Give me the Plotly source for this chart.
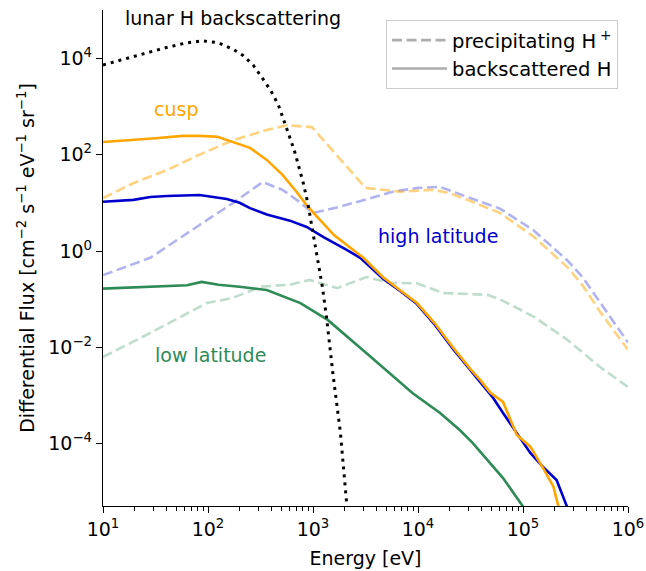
import plotly.graph_objects as go

# ---------------- data ----------------
lunar_E = [10, 15.8, 25.1, 39.8, 63.1, 89.1, 126, 178, 214, 269, 324, 398, 468, 525, 589,
           661, 724, 804, 891, 977, 1096, 1230, 1349, 1549, 1820, 2089, 2291]
lunar_F = [7240, 9550, 12600, 16600, 20900, 22900, 20900, 14800, 11500, 7240, 4070, 2090,
           1070, 525, 282, 126, 61.7, 26.9, 10.0, 3.16, 0.76, 0.178, 0.040, 0.0028,
           1.78e-4, 6.3e-6, 6.3e-7]

cusp_back_E = [10, 19.5, 31.6, 57.5, 83.2, 123, 174, 251, 363, 513, 708, 871, 1096, 1585,
               2239, 3020, 4677, 6761, 9772, 14450, 21380, 31620, 38900, 48980, 64570,
               87100, 117500, 154900, 195000, 229100]
cusp_back_F = [182, 200, 219, 245, 245, 234, 182, 138, 77.6, 38.0, 16.2, 8.91, 5.13, 2.14,
               1.20, 0.724, 0.282, 0.155, 0.0832, 0.0316, 0.0102, 3.55e-3, 2.14e-3, 1.15e-3,
               7.41e-4, 1.55e-4, 8.71e-5, 3.16e-5, 1.29e-5, 3.16e-6]

high_back_E = [10, 19.5, 28.2, 40.7, 83.2, 151, 200, 251, 363, 603, 871, 1259, 1995,
               2818, 4677, 6761, 9772, 14450, 21380, 31620, 38900, 51290, 64570, 83180,
               117500, 154900, 208900, 263000, 288400]
high_back_F = [10.5, 11.5, 13.2, 13.8, 14.5, 12.0, 10.0, 7.76, 5.75, 4.27, 3.16, 1.95,
               1.12, 0.724, 0.263, 0.148, 0.0794, 0.0295, 9.55e-3, 3.31e-3, 2.0e-3, 9.33e-4,
               4.37e-4, 1.95e-4, 6.46e-5, 3.31e-5, 1.78e-5, 4.9e-6, 2.5e-6]

low_back_E = [10, 28.2, 63.1, 87.1, 126, 200, 363, 759, 1380, 3236, 8913, 16220, 25120,
              33110, 48980, 64570, 97720, 112200]
low_back_F = [0.166, 0.182, 0.195, 0.229, 0.200, 0.182, 0.155, 0.0832, 0.0372, 7.59e-3,
              1.12e-3, 4.37e-4, 1.91e-4, 1.05e-4, 3.98e-5, 1.95e-5, 5.37e-6, 3.55e-6]

cusp_prec_E = [10, 19.5, 40.7, 83.2, 174, 363, 562, 977, 3162, 6761, 13800, 19950, 29510,
               60260, 125900, 263000, 371500, 537000, 1e6]
cusp_prec_F = [12.6, 25.7, 47.9, 100, 200, 324, 407, 372, 20.4, 17.0, 18.6, 15.8, 11.5,
               6.17, 2.0, 0.468, 0.191, 0.0562, 8.91e-3]

high_prec_E = [10, 28.2, 83.2, 174, 331, 513, 741, 1000, 1820, 3715, 5754, 10000, 16220,
               29510, 60260, 125900, 263000, 371500, 537000, 1e6]
high_prec_F = [0.316, 0.724, 3.47, 10.0, 26.9, 18.6, 10.5, 6.17, 8.32, 13.2, 17.0, 20.4,
               21.4, 13.2, 7.59, 2.69, 0.646, 0.282, 0.0891, 0.0126]

low_prec_E = [10, 28.2, 97.7, 174, 316, 603, 933, 1698, 3236, 5370, 9772, 17380, 45710,
              60260, 125900, 263000, 537000, 1e6]
low_prec_F = [6.31e-3, 0.020, 0.0832, 0.107, 0.182, 0.200, 0.251, 0.170, 0.288, 0.219,
              0.214, 0.135, 0.123, 0.100, 0.0437, 0.0145, 3.98e-3, 1.51e-3]

x_tickvals = [1e1, 1e2, 1e3, 1e4, 1e5, 1e6]
x_ticktext = ["10<sup>1</sup>", "10<sup>2</sup>", "10<sup>3</sup>", "10<sup>4</sup>",
              "10<sup>5</sup>", "10<sup>6</sup>"]
y_tickvals = [1e-4, 1e-2, 1e0, 1e2, 1e4]
y_ticktext = ["10<sup>\u22124</sup>", "10<sup>\u22122</sup>", "10<sup>0</sup>",
              "10<sup>2</sup>", "10<sup>4</sup>"]
x_minor = [k * 10 ** n for n in range(1, 6) for k in range(2, 10)]

# ---------------- styles ----------------
ORANGE = "#FFA500"
BLUE = "#0000CD"
GREEN = "#2E8B57"
DASH = "10px,4.5px"
LW = 2.6
FONT = "DejaVu Sans"

fig = go.Figure()

def add(x, y, color, dash=None, width=LW):
    fig.add_trace(go.Scatter(x=x, y=y, mode="lines", showlegend=False,
                             line=dict(color=color, width=width, dash=dash),
                             hoverinfo="skip"))

add(low_prec_E, low_prec_F, "rgba(46,139,87,0.3)", DASH)
add(high_prec_E, high_prec_F, "rgba(0,0,205,0.3)", DASH)
add(cusp_prec_E, cusp_prec_F, "rgba(255,165,0,0.5)", DASH)
add(low_back_E, low_back_F, GREEN)
add(high_back_E, high_back_F, BLUE)
add(cusp_back_E, cusp_back_F, ORANGE)
add(lunar_E, lunar_F, "black", "3px,5px", 3)

# legend entries
fig.add_trace(go.Scatter(x=[None], y=[None], mode="lines",
                         name="precipitating H\u2009<sup>+</sup>",
                         line=dict(color="#adadad", width=LW, dash=DASH)))
fig.add_trace(go.Scatter(x=[None], y=[None], mode="lines", name="backscattered H",
                         line=dict(color="#adadad", width=LW)))

def label(text, x, y, color, xanchor="center"):
    fig.add_annotation(text=text, x=x, y=y, xref="paper", yref="paper", showarrow=False,
                       xanchor=xanchor, yanchor="middle",
                       font=dict(family=FONT, size=19, color=color))

label("lunar H backscattering", 0.038, 0.984, "black", "left")
label("cusp", 0.139, 0.800, ORANGE)
label("high latitude", 0.638, 0.544, BLUE)
label("low latitude", 0.2057, 0.304, GREEN)

axis_common = dict(showline=True, linecolor="black", linewidth=1.3, ticks="outside",
                   ticklen=6, tickwidth=1.2, tickcolor="black", showgrid=False,
                   zeroline=False, mirror=False,
                   tickfont=dict(family=FONT, size=19, color="black"),
                   title_font=dict(family=FONT, size=19, color="black"))

fig.update_xaxes(type="log", range=[1, 6], tickmode="array", tickvals=x_tickvals,
                 ticktext=x_ticktext, title_text="Energy [eV]", title_standoff=12,
                 minor=dict(tickmode="array", tickvals=x_minor, ticks="outside",
                            ticklen=3.5, tickwidth=1, tickcolor="black", showgrid=False),
                 **axis_common)
fig.update_yaxes(type="log", range=[-5.29, 5.0], tickmode="array", tickvals=y_tickvals,
                 ticktext=y_ticktext,
                 title_text="Differential Flux [cm<sup>\u22122</sup> s<sup>\u22121</sup> eV<sup>\u22121</sup> sr<sup>\u22121</sup>]",
                 title_standoff=8, **axis_common)

fig.update_layout(
    width=646, height=571,
    margin=dict(l=103, r=18, t=10, b=65, autoexpand=False),
    paper_bgcolor="white", plot_bgcolor="white",
    font=dict(family=FONT, size=19, color="black"),
    legend=dict(x=0.981, y=0.980, xanchor="right", yanchor="top",
                bgcolor="white", bordercolor="#cccccc", borderwidth=1,
                font=dict(family=FONT, size=19.5, color="black"),
                itemwidth=55, tracegroupgap=0),
)

fig.write_html("out.html")
